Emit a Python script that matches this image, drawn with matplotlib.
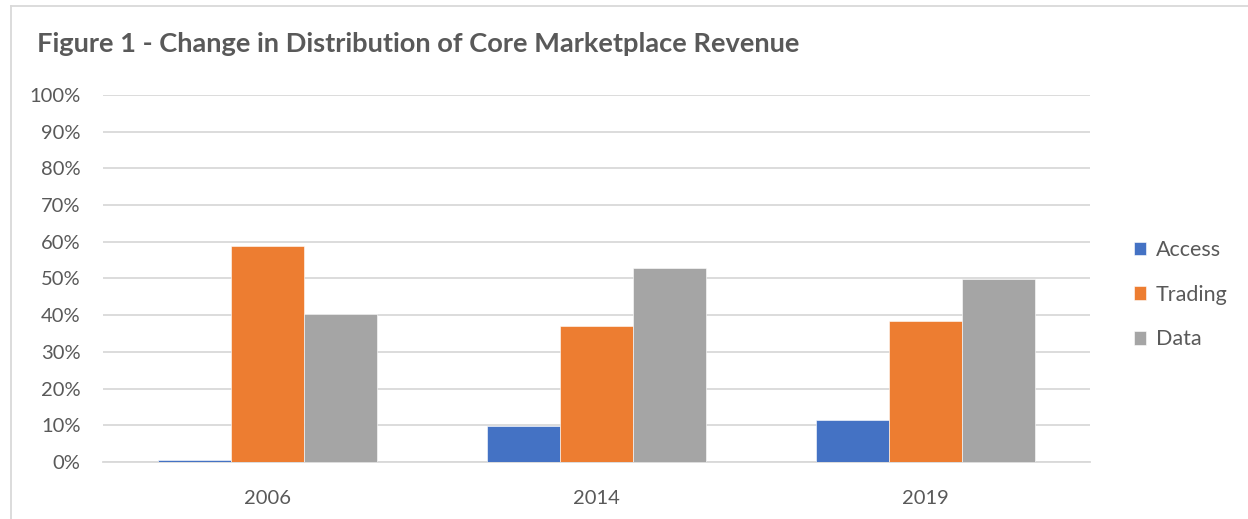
import matplotlib
matplotlib.use('Agg')
import matplotlib.pyplot as plt
import numpy as np
from matplotlib.lines import Line2D
from matplotlib.ticker import PercentFormatter

plt.rcParams['font.family'] = ['Lato', 'DejaVu Sans']

# data
years = ['2006', '2014', '2019']
series = ['Access', 'Trading', 'Data']
access = [0.6, 9.8, 11.5]
trading = [58.9, 37.1, 38.4]
data = [40.4, 52.9, 49.9]
colors = ['#4472C4', '#ED7D31', '#A5A5A5']

fig = plt.figure(figsize=(12.48, 5.19), dpi=100)
ax = fig.add_axes([0.0825, 0.1098, 0.7909, 0.7072])

x = np.arange(len(years))
w = 0.222
for i, (vals, name) in enumerate(zip([access, trading, data], series)):
    ax.bar(x + (i - 1) * w, vals, w, color=colors[i], label=name,
           edgecolor='white', linewidth=0.4, zorder=3)

ax.set_xlim(-0.5, 2.5)
ax.set_ylim(0, 100)
ax.set_yticks(np.arange(0, 101, 10))
ax.yaxis.set_major_formatter(PercentFormatter(decimals=0))
ax.set_xticks(x)
ax.set_xticklabels(years)
ax.grid(axis='y', color='#d9d9d9', linewidth=1.3, zorder=0)
for s in ['top', 'right', 'left']:
    ax.spines[s].set_visible(False)
ax.spines['bottom'].set_color('#d9d9d9')
ax.spines['bottom'].set_linewidth(1.3)
ax.tick_params(length=0, labelsize=14.5, colors='#595959')
ax.tick_params(axis='y', pad=16)
ax.tick_params(axis='x', pad=20)

fig.text(0.0296, 0.915, 'Figure 1 - Change in Distribution of Core Marketplace Revenue',
         fontsize=19.6, fontweight='bold', color='#595959', va='center', ha='left')

fig.legend(loc='upper left', bbox_to_anchor=(0.893, 0.575), frameon=False,
           fontsize=15.5, handlelength=0.58, handleheight=0.58, handletextpad=0.45,
           labelspacing=1.15, labelcolor='#595959')

# chart border
fig.add_artist(Line2D([11 / 1248, 11 / 1248], [0, 1 - 6 / 519], color='#d9d9d9', lw=1.3))
fig.add_artist(Line2D([11 / 1248, 1], [1 - 6 / 519, 1 - 6 / 519], color='#d9d9d9', lw=1.3))

fig.savefig('out.png', dpi=100)
